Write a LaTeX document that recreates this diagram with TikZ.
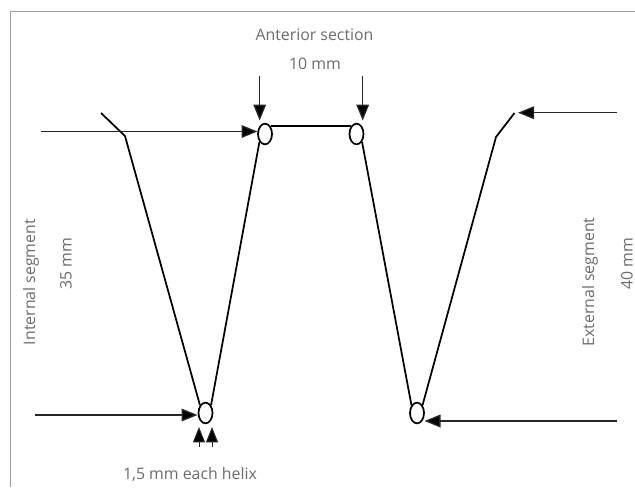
\documentclass[tikz,border=0pt]{standalone}
\usepackage{fontspec}
\setmainfont{Open Sans}
\usetikzlibrary{arrows.meta,shapes.geometric}
\tikzset{
  x=0.75pt,y=-0.75pt,
  wire/.style={draw=black,line width=1.3pt,line join=miter},
  pointer/.style={draw=black!85,line width=1pt,-{Triangle[length=12pt,width=9.5pt,fill=black]}},
  smallpointer/.style={draw=black!85,line width=0.75pt,-{Triangle[length=11.5pt,width=9pt,fill=black]}},
  helix/.style={draw=black,fill=white,line width=1.3pt,shape=ellipse,minimum width=10.5pt,minimum height=15.5pt,inner sep=0pt},
  lab/.style={text=black!58,font=\fontsize{11.9pt}{14pt}\selectfont,inner sep=0pt},
  frameline/.style={draw=black!38,line width=0.9pt}
}
\begin{document}
\begin{tikzpicture}
\useasboundingbox (0,0) rectangle (635,487);
\coordinate (ftop) at (635,11.5);
\coordinate (fcorner) at (10.5,11.5);
\coordinate (fbot) at (10.5,487);
\draw[frameline] (ftop) -- (fcorner) -- (fbot);

\node[helix] (h1) at (265,134) {};
\node[helix] (h2) at (356.5,134) {};
\node[helix] (h3) at (205.5,413) {};
\node[helix] (h4) at (417,413) {};

\coordinate (ltip) at (101,113);
\coordinate (lknee) at (125,136);
\coordinate (rtip) at (514.5,113);
\coordinate (rknee) at (496,137);

\draw[wire] (ltip) -- (lknee) -- (h3.north west);
\draw[wire] (h3.north east) -- (h1.south west);
\draw[wire] (h1.north east) -- (h2.north west);
\draw[wire] (h2.south east) -- (h4.north west);
\draw[wire] (h4.north east) -- (rknee) -- (rtip);

\coordinate (a1) at (41,131.5);
\coordinate (a1e) at (257.5,131.5);
\draw[pointer] (a1) -- (a1e);
\coordinate (a2) at (259.7,76);
\coordinate (a2e) at (259.7,120.5);
\draw[pointer] (a2) -- (a2e);
\coordinate (a3) at (362.7,76);
\coordinate (a3e) at (362.7,120.5);
\draw[pointer] (a3) -- (a3e);
\coordinate (a4) at (616.5,112.7);
\coordinate (a4e) at (518,112.7);
\draw[pointer] (a4) -- (a4e);
\coordinate (a5) at (35,415);
\coordinate (a5e) at (197.5,415);
\draw[pointer] (a5) -- (a5e);
\coordinate (a6) at (616.5,421);
\coordinate (a6e) at (424.5,421);
\draw[pointer] (a6) -- (a6e);
\coordinate (a7) at (199,446.5);
\coordinate (a7e) at (199,427);
\draw[smallpointer] (a7) -- (a7e);
\coordinate (a8) at (212,446.5);
\coordinate (a8e) at (212,427);
\draw[smallpointer] (a8) -- (a8e);

\node[lab] (t1) at (314.5,35) {Anterior section};
\node[lab] (t2) at (315,64) {10 mm};
\node[lab] (t3) at (190,474) {1,5 mm each helix};
\node[lab,rotate=90] (t4) at (31,282) {Internal segment};
\node[lab,rotate=90] (t5) at (66,264) {35 mm};
\node[lab,rotate=90] (t6) at (590,282) {External segment};
\node[lab,rotate=90] (t7) at (627,264) {40 mm};
\end{tikzpicture}
\end{document}
